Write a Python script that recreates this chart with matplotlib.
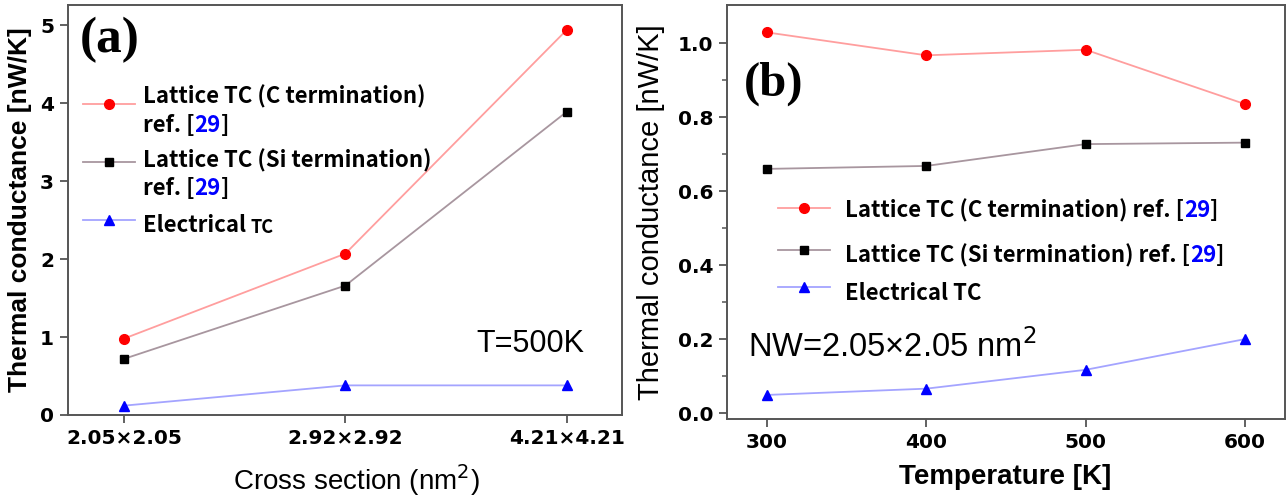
import numpy as np
import matplotlib
matplotlib.use("Agg")
import matplotlib.pyplot as plt
from matplotlib.lines import Line2D
from matplotlib.ticker import FormatStrFormatter

# panel (a): conductance vs cross section at T=500K
sections = ["2.05\u00d72.05", "2.92\u00d72.92", "4.21\u00d74.21"]
tc_c_a = [0.98, 2.07, 4.94]
tc_si_a = [0.72, 1.66, 3.89]
tc_el_a = [0.12, 0.38, 0.38]

# panel (b): conductance vs temperature for the 2.05x2.05 wire
temps = [300, 400, 500, 600]
tc_c_b = [1.029, 0.967, 0.982, 0.835]
tc_si_b = [0.660, 0.668, 0.727, 0.731]
tc_el_b = [0.049, 0.066, 0.117, 0.200]

RED_LINE, RED = "#ff9e9e", "#ff0000"
GREY_LINE, BLACK = "#a8969f", "#000000"
BLUE_LINE, BLUE = "#a4a4ff", "#0000ff"
SPINE = "#555555"

LEG_FONT = "Noto Sans CJK KR"
SANS = "Liberation Sans"

plt.rcParams["font.family"] = "DejaVu Sans"
plt.rcParams["xtick.labelsize"] = 14.5
plt.rcParams["ytick.labelsize"] = 14.5

series = [
    (RED_LINE, RED, "o", 7),
    (GREY_LINE, BLACK, "s", 6),
    (BLUE_LINE, BLUE, "^", 7.5),
]


def style_axes(ax):
    for s in ax.spines.values():
        s.set_color(SPINE)
        s.set_linewidth(1.4)
    ax.tick_params(direction="out", length=6, width=1.3, color=SPINE, pad=4)
    ax.tick_params(which="minor", direction="out", length=3.5, width=1.1, color=SPINE)
    for lab in ax.get_xticklabels() + ax.get_yticklabels():
        lab.set_fontweight("bold")


def chain(ax, x, y, pieces, size=16):
    # consecutive text pieces on one baseline, each starting where the last ended
    first = None
    prev = None
    for txt, col, sz in pieces:
        kw = dict(color=col, fontsize=sz if sz else size, family=LEG_FONT, fontweight="bold")
        if prev is None:
            prev = ax.text(x, y, txt, transform=ax.transAxes, ha="left", va="baseline", **kw)
            first = prev
        else:
            prev = ax.annotate(txt, xy=(1, 0), xycoords=prev, ha="left", va="bottom", **kw)
    return first


def legend_key(ax, x0, x1, y, line_col, mcol, marker, ms):
    xm = (x0 + x1) / 2
    ax.add_line(Line2D([x0, xm, x1], [y, y, y], transform=ax.transAxes, color=line_col,
                       lw=1.3, marker=marker, markevery=[1], ms=ms, mfc=mcol, mec=mcol,
                       clip_on=False))


fig = plt.figure(figsize=(12.87, 4.97), dpi=100)
ax1 = fig.add_axes([68 / 1287, 1 - 415 / 497, 554 / 1287, 410 / 497])
ax2 = fig.add_axes([727 / 1287, 1 - 419 / 497, 558 / 1287, 414 / 497])

# ---- (a)
xa = np.arange(len(sections))
for vals, (lc, mc, mk, ms) in zip([tc_c_a, tc_si_a, tc_el_a], series):
    ax1.plot(xa, vals, color=lc, lw=1.3, marker=mk, ms=ms, mfc=mc, mec=mc, zorder=3)
ax1.set_xlim(-0.253, 2.25)
ax1.set_ylim(0, 5.26)
ax1.set_xticks(xa)
ax1.set_xticklabels(sections)
ax1.set_yticks(range(6))
style_axes(ax1)
ax1.set_ylabel("Thermal conductance [nW/K]", family=SANS, fontweight="bold", fontsize=19, va="center")
ax1.yaxis.set_label_coords(-0.087, 0.5)
ax1.set_xlabel("Cross section (nm$^2$)", family=SANS, fontsize=20, va="baseline")
ax1.xaxis.set_label_coords(0.52, -0.183)

ax1.text(0.076, 0.885, "(a)", transform=ax1.transAxes, family="Liberation Serif",
         fontweight="bold", fontsize=37, ha="center", va="baseline")
ax1.text(0.738, 0.154, "T=500K", transform=ax1.transAxes, family=SANS, fontsize=22,
         ha="left", va="baseline")

legend_key(ax1, 0.027, 0.121, 0.7585, *series[0])
chain(ax1, 0.135, 0.761, [("Lattice TC (C termination)", "black", None)])
chain(ax1, 0.135, 0.690, [("ref. [", "black", None), ("29", BLUE, None), ("]", "black", None)])
legend_key(ax1, 0.027, 0.121, 0.617, *series[1])
chain(ax1, 0.135, 0.605, [("Lattice TC (Si termination)", "black", None)])
chain(ax1, 0.135, 0.537, [("ref. [", "black", None), ("29", BLUE, None), ("]", "black", None)])
legend_key(ax1, 0.027, 0.121, 0.4756, *series[2])
chain(ax1, 0.135, 0.446, [("Electrical ", "black", None), ("TC", "black", 13)])

# ---- (b)
for vals, (lc, mc, mk, ms) in zip([tc_c_b, tc_si_b, tc_el_b], series):
    ax2.plot(temps, vals, color=lc, lw=1.3, marker=mk, ms=ms, mfc=mc, mec=mc, zorder=3)
ax2.set_xlim(275, 625)
ax2.set_ylim(-0.016, 1.103)
ax2.set_xticks(temps)
ax2.set_yticks(np.arange(0, 1.01, 0.2))
ax2.set_yticks(np.arange(0.1, 1.1, 0.2), minor=True)
ax2.yaxis.set_major_formatter(FormatStrFormatter("%.1f"))
style_axes(ax2)
ax2.set_ylabel("Thermal conductance [nW/K]", family=SANS, fontsize=21, va="center")
ax2.yaxis.set_label_coords(-0.136, 0.5)
ax2.set_xlabel("Temperature [K]", family=SANS, fontweight="bold", fontsize=20, va="center")
ax2.xaxis.set_label_coords(0.498, -0.14)

ax2.text(0.084, 0.78, "(b)", transform=ax2.transAxes, family="Liberation Serif",
         fontweight="bold", fontsize=35, ha="center", va="baseline")
ax2.text(0.0376, 0.150, "NW=2.05\u00d72.05 nm$^2$", transform=ax2.transAxes, family=SANS,
         fontsize=23.5, ha="left", va="baseline")

legend_key(ax2, 0.0914, 0.1846, 0.5097, *series[0])
chain(ax2, 0.2115, 0.488, [("Lattice TC (C termination) ref. [", "black", None), ("29", BLUE, None), ("]", "black", None)])
legend_key(ax2, 0.0914, 0.1846, 0.408, *series[1])
chain(ax2, 0.2115, 0.379, [("Lattice TC (Si termination) ref. [", "black", None), ("29", BLUE, None), ("]", "black", None)])
legend_key(ax2, 0.0914, 0.1846, 0.319, *series[2])
chain(ax2, 0.2115, 0.287, [("Electrical TC", "black", None)])

fig.savefig("out.png", dpi=100)
